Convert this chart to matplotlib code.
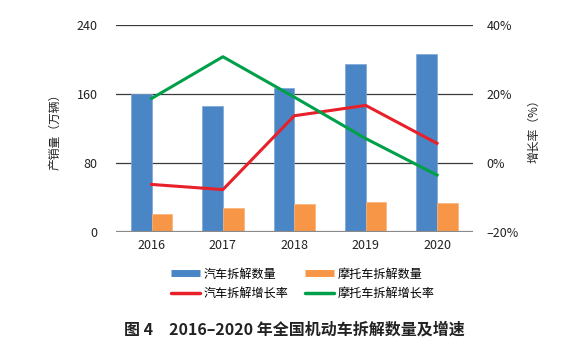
import matplotlib
matplotlib.use("Agg")
import matplotlib.pyplot as plt
from matplotlib.lines import Line2D
from matplotlib.ticker import FuncFormatter
import numpy as np

plt.rcParams['font.family'] = ['Noto Sans CJK SC', 'DejaVu Sans']

# 数据
years = ["2016", "2017", "2018", "2019", "2020"]
car_count = [159.6, 146.5, 166.6, 194.4, 206.0]
moto_count = [20.9, 27.5, 32.5, 34.4, 33.6]
car_growth = [-6.2, -7.7, 13.7, 16.7, 5.7]
moto_growth = [18.7, 30.8, 19.1, 7.1, -3.5]

c_blue = "#4a86c5"
c_orange = "#f79646"
c_red = "#e8202a"
c_green = "#00a04a"

fig = plt.figure(figsize=(5.88, 3.57), dpi=100)
ax = fig.add_axes([0.197, 0.350, 0.607, 0.580])
ax2 = ax.twinx()

x = np.arange(len(years))
w = 0.29
ax.bar(x - w / 2, car_count, w, color=c_blue, edgecolor="#7aa6d6", linewidth=0.5, zorder=3)
ax.bar(x + w / 2, moto_count, w, color=c_orange, edgecolor="#f9b27a", linewidth=0.5, zorder=3)

ax.set_xlim(-0.5, len(years) - 0.5)
ax.set_ylim(0, 240)
ax.set_yticks([0, 80, 160, 240])
ax.set_xticks(x)
ax.set_xticklabels(years)

for yv in [80, 160, 240]:
    ax.axhline(yv, color="#3a3a3a", linewidth=0.9, zorder=1)
ax.axhline(0, color="#8a8a8a", linewidth=1.6, zorder=4)

ax2.plot(x, car_growth, color=c_red, linewidth=2.2, zorder=5)
ax2.plot(x, moto_growth, color=c_green, linewidth=2.2, zorder=5)
ax2.set_ylim(-20, 40)
ax2.set_yticks([-20, 0, 20, 40])
ax2.yaxis.set_major_formatter(FuncFormatter(lambda v, p: f"{int(v)}%".replace("-", "–")))

for a in (ax, ax2):
    for s in a.spines.values():
        s.set_visible(False)
    a.tick_params(length=0, labelsize=9, colors="#222222")
ax.tick_params(axis="y", pad=13)
ax.tick_params(axis="x", pad=5)
ax2.tick_params(axis="y", pad=10)

ax.set_ylabel("产销量（万辆）", fontsize=8.5, color="#222222", labelpad=11)
ax2.set_ylabel("增长率（%）", fontsize=8.5, color="#222222", labelpad=6)

handles = [
    Line2D([], [], color=c_blue, linewidth=5, solid_capstyle="butt"),
    Line2D([], [], color=c_red, linewidth=2.5, solid_capstyle="round"),
    Line2D([], [], color=c_orange, linewidth=5, solid_capstyle="butt"),
    Line2D([], [], color=c_green, linewidth=2.5, solid_capstyle="round"),
]
labels = ["汽车拆解数量", "汽车拆解增长率", "摩托车拆解数量", "摩托车拆解增长率"]
fig.legend(handles, labels, ncol=2, loc="center", bbox_to_anchor=(0.515, 0.205),
           frameon=False, fontsize=8.7, handlelength=2.4, handletextpad=0.3,
           columnspacing=1.3, labelspacing=0.55)

fig.text(0.5, 0.078, "图 4　2016–2020 年全国机动车拆解数量及增速", ha="center", va="center",
         fontsize=11.5, fontweight="bold", color="#222222")

fig.savefig("out.png", dpi=100)
